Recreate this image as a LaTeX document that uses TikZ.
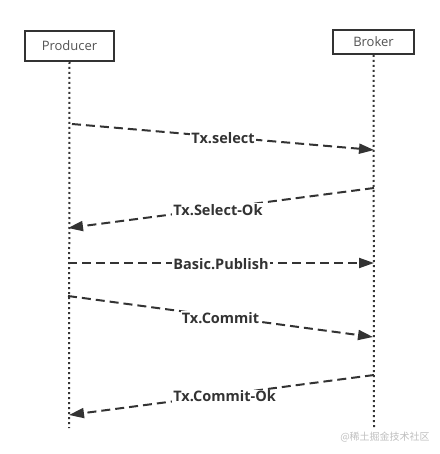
\documentclass[tikz,border=0pt]{standalone}
\usepackage{fontspec}
\setmainfont{Open Sans}
\newfontfamily\cjkfont{Noto Sans CJK SC}
\usetikzlibrary{arrows.meta}
\definecolor{linegray}{HTML}{333333}
\tikzset{
    actor/.style={draw=linegray, line width=2pt, text=linegray!85, inner sep=0pt,
        font=\fontsize{13}{15}\selectfont},
    lifeline/.style={draw=linegray, line width=2pt, dash pattern=on 2pt off 3pt},
    msg/.style={draw=linegray, line width=2pt, dash pattern=on 9pt off 5pt,
        -{Triangle[length=15pt,width=10pt]}},
    msglabel/.style={fill=white, inner sep=1pt, text=linegray, yshift=-1.5pt,
        font=\fontsize{14.5}{16}\selectfont\bfseries}
}
\begin{document}
\begin{tikzpicture}[x=1pt, y=-1pt]
    \useasboundingbox (0,0) rectangle (439,454);

    % Hai đối tượng
    \node[actor, minimum width=89pt, minimum height=30pt] (producer) at (69.5,46) {Producer};
    \node[actor, minimum width=81pt, minimum height=24pt] (broker) at (373.5,42) {Broker};

    % Đường đời
    \coordinate (pend) at (69,428);
    \coordinate (bend) at (374,428);
    \draw[lifeline] (producer.south) -- (pend);
    \draw[lifeline] (broker.south) -- (bend);

    % Điểm đầu và cuối các thông điệp
    \coordinate (p1) at (72,124);  \coordinate (b1) at (374,150);
    \coordinate (b2) at (374,188); \coordinate (p2) at (68,228);
    \coordinate (p3) at (68,263);  \coordinate (b3) at (374,263);
    \coordinate (p4) at (68,296);  \coordinate (b4) at (373,337);
    \coordinate (b5) at (374,375); \coordinate (p5) at (69,415);

    % Các thông điệp
    \draw[msg] (p1) -- node[msglabel, pos=0.5] (m1) {Tx.select} (b1);
    \draw[msg] (b2) -- node[msglabel, pos=0.51] (m2) {Tx.Select-Ok} (p2);
    \draw[msg] (p3) -- node[msglabel, pos=0.5] (m3) {Basic.Publish} (b3);
    \draw[msg] (p4) -- node[msglabel, pos=0.5] (m4) {Tx.Commit} (b4);
    \draw[msg] (b5) -- node[msglabel, pos=0.49] (m5) {Tx.Commit-Ok} (p5);

    % Hình mờ
    \node[text=gray!50, font=\cjkfont\fontsize{10}{12}\selectfont] (mark) at (385,437) {@稀土掘金技术社区};
\end{tikzpicture}
\end{document}
